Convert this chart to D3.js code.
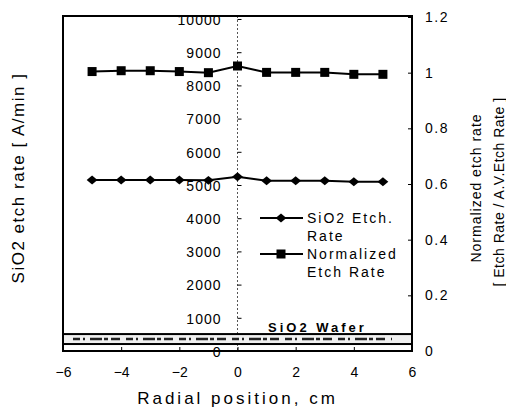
<!DOCTYPE html>
<html>
<head>
<meta charset="utf-8">
<script src="https://cdn.jsdelivr.net/npm/d3@7"></script>
<style>
  body { margin: 0; background: #fff; }
  text { font-family: "Liberation Sans", Arial, sans-serif; fill: #000; }
</style>
</head>
<body>
<svg id="chart" width="506" height="407"></svg>
<script>
// data
const positions = [-5, -4, -3, -2, -1, 0, 1, 2, 3, 4, 5];
const etchRate = [5150, 5150, 5150, 5150, 5140, 5250, 5130, 5130, 5130, 5100, 5100];
const normRate = [1.004, 1.007, 1.007, 1.004, 1.000, 1.024, 1.001, 1.001, 1.001, 0.994, 0.994];
const xTicks = [-6, -4, -2, 0, 2, 4, 6];
const leftTicks = [0, 1000, 2000, 3000, 4000, 5000, 6000, 7000, 8000, 9000, 10000];
const rightTicks = [0, 0.2, 0.4, 0.6, 0.8, 1, 1.2];
const rightLabels = ["0", "0.2", "0.4", "0.6", "0.8", "1", "1.2"];
const legendNames = [["SiO2 Etch.", "Rate"], ["Normalized", "Etch Rate"]];
const waferBand = [210, 510]; // in left axis units

const svg = d3.select("#chart");
const pLeft = 63, pRight = 412, pTop = 16, pBottom = 351;

const x = d3.scaleLinear().domain([-6, 6]).range([pLeft, pRight]);
const yL = d3.scaleLinear().domain([0, 10000]).range([pBottom, 19]);
const yR = d3.scaleLinear().domain([0, 1.2]).range([pBottom, 17]);

// dotted centre line
svg.append("line")
  .attr("x1", x(0)).attr("x2", x(0)).attr("y1", pTop).attr("y2", pBottom)
  .attr("stroke", "#555").attr("stroke-width", 1).attr("stroke-dasharray", "2 2");

// left axis sits on x = 0
const gL = svg.append("g").attr("transform", `translate(${x(0)},0)`)
  .call(d3.axisLeft(yL).tickValues(leftTicks).tickSizeInner(-4).tickSizeOuter(0).tickPadding(16).tickFormat(d3.format("d")));
gL.select(".domain").remove();
gL.selectAll("text").style("font-size", "14px").style("letter-spacing", "1px").attr("dy", "0.38em");

// right axis
const gR = svg.append("g").attr("transform", `translate(${pRight},0)`)
  .call(d3.axisRight(yR).tickValues(rightTicks).tickSizeInner(-4).tickSizeOuter(0).tickPadding(13)
    .tickFormat((d, i) => rightLabels[i]));
gR.select(".domain").remove();
gR.selectAll("text").style("font-size", "14px").style("letter-spacing", "1.5px");

// bottom axis
const gB = svg.append("g").attr("transform", `translate(0,${pBottom})`)
  .call(d3.axisBottom(x).tickValues(xTicks).tickSizeInner(-4).tickSizeOuter(0).tickPadding(16).tickFormat(d3.format("d")));
gB.select(".domain").remove();
gB.selectAll("text").style("font-size", "14px");

// wafer sketch
svg.append("rect")
  .attr("x", pLeft).attr("y", yL(waferBand[1]))
  .attr("width", pRight - pLeft).attr("height", yL(waferBand[0]) - yL(waferBand[1]))
  .attr("fill", "#f0f0f0").attr("stroke", "#000").attr("stroke-width", 2);
svg.append("line")
  .attr("x1", pLeft + 10).attr("x2", pRight - 20)
  .attr("y1", yL((waferBand[0] + waferBand[1]) / 2)).attr("y2", yL((waferBand[0] + waferBand[1]) / 2))
  .attr("stroke", "#222").attr("stroke-width", 2.5).attr("stroke-dasharray", "7 3 2 5 12 2 4 3 9 6");
svg.append("text")
  .attr("x", x(1.05)).attr("y", yL(waferBand[1]) - 2)
  .style("font-size", "13px").style("font-weight", "bold").style("letter-spacing", "3px")
  .text("SiO2  Wafer");

// plot frame
svg.append("rect")
  .attr("x", pLeft).attr("y", pTop).attr("width", pRight - pLeft).attr("height", pBottom - pTop)
  .attr("fill", "none").attr("stroke", "#000").attr("stroke-width", 2);

// series
const lineL = d3.line().x((d, i) => x(positions[i])).y(d => yL(d));
const lineR = d3.line().x((d, i) => x(positions[i])).y(d => yR(d));
const diamond = d3.symbol().type(d3.symbolDiamond).size(60);
const diaScale = "scale(1.3,0.62)";

svg.append("path").datum(etchRate).attr("d", lineL)
  .attr("fill", "none").attr("stroke", "#000").attr("stroke-width", 2);
svg.selectAll(".dia").data(etchRate).join("path").attr("class", "dia")
  .attr("d", diamond)
  .attr("transform", (d, i) => `translate(${x(positions[i])},${yL(d)}) ${diaScale}`)
  .attr("fill", "#000");

svg.append("path").datum(normRate).attr("d", lineR)
  .attr("fill", "none").attr("stroke", "#000").attr("stroke-width", 2);
svg.selectAll(".sq").data(normRate).join("rect").attr("class", "sq")
  .attr("x", (d, i) => x(positions[i]) - 4.5).attr("y", d => yR(d) - 4.5)
  .attr("width", 9).attr("height", 9).attr("fill", "#000");

// legend
const leg = svg.append("g");
legendNames.forEach((names, k) => {
  const ly = 218 + k * 36;
  leg.append("line").attr("x1", 260).attr("x2", 303).attr("y1", ly).attr("y2", ly)
    .attr("stroke", "#000").attr("stroke-width", 2);
  if (k === 0) {
    leg.append("path").attr("d", diamond).attr("transform", `translate(281,${ly}) ${diaScale}`).attr("fill", "#000");
  } else {
    leg.append("rect").attr("x", 281 - 4.5).attr("y", ly - 4.5).attr("width", 9).attr("height", 9).attr("fill", "#000");
  }
  names.forEach((n, j) => {
    leg.append("text").attr("x", 307).attr("y", ly + j * 18).attr("dy", "0.35em")
      .style("font-size", "14px").style("letter-spacing", "2px").text(n);
  });
});

// axis titles
svg.append("text")
  .attr("transform", "translate(24,178) rotate(-90)")
  .attr("text-anchor", "middle")
  .style("font-size", "17px").style("letter-spacing", "1.5px")
  .text("SiO2 etch rate [ A/min ]");

svg.append("text")
  .attr("x", x(0)).attr("y", 404)
  .attr("text-anchor", "middle")
  .style("font-size", "17px").style("letter-spacing", "3px")
  .text("Radial position, cm");

svg.append("text")
  .attr("transform", "translate(481,188) rotate(-90)")
  .attr("text-anchor", "middle")
  .style("font-size", "14px").style("letter-spacing", "1px")
  .text("Normalized etch rate");

svg.append("text")
  .attr("transform", "translate(504,192) rotate(-90)")
  .attr("text-anchor", "middle")
  .style("font-size", "14px").style("letter-spacing", "0.5px")
  .text("[ Etch Rate / A.V.Etch Rate ]");
</script>
</body>
</html>
